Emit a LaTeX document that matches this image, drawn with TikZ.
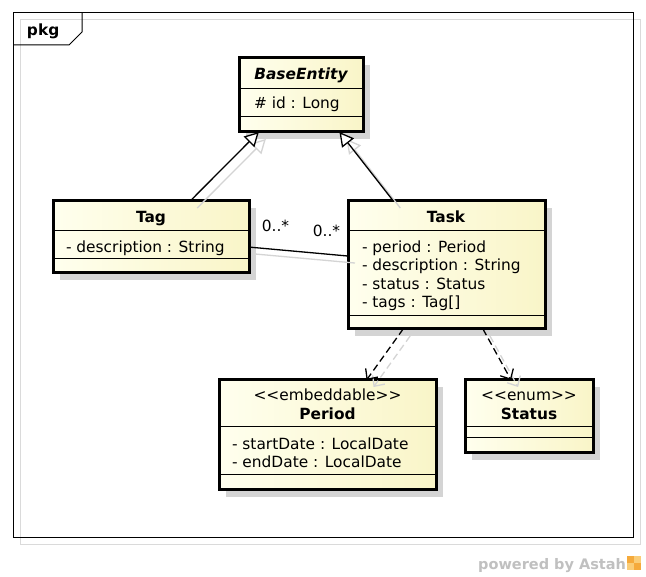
\documentclass[tikz,border=0pt]{standalone}
\usepackage{fontspec}
\setmainfont{DejaVu Sans}
\usetikzlibrary{calc,arrows.meta,shadows}
\definecolor{creamL}{RGB}{255,255,238}
\definecolor{creamR}{RGB}{249,245,200}
\definecolor{shadowgray}{RGB}{212,212,212}
\definecolor{framegray}{RGB}{218,218,218}
\definecolor{logogray}{RGB}{192,192,192}
\definecolor{logoA}{RGB}{245,170,60}
\definecolor{logoB}{RGB}{250,205,120}
\begin{document}
\begin{tikzpicture}[x=1pt,y=-1pt,
  every node/.style={font=\fontsize{15.4}{18}\selectfont, inner sep=0pt, outer sep=0pt},
  umlbox/.style={draw=black, line width=3pt, left color=creamL, right color=creamR, anchor=north west,
    general shadow={fill=shadowgray, shadow xshift=7pt, shadow yshift=-7pt}},
  sepline/.style={line width=1pt},
  title/.style={anchor=base, font=\fontsize{15.4}{18}\selectfont\bfseries},
  attr/.style={anchor=base west},
  stereo/.style={anchor=base},
  mult/.style={anchor=base},
  conn/.style={line width=1.3pt},
  gen/.style={conn, -{Triangle[open, fill=white, length=14pt, width=15pt, line width=1.3pt]}},
  dep/.style={conn, dash pattern=on 7pt off 4pt, -{Straight Barb[length=8pt, width=15pt, line width=1.3pt]}},
  connshadow/.style={draw=shadowgray, transform canvas={shift={(7,7)}}}
]
\useasboundingbox (0,0) rectangle (646,577);
\fill[white] (0,0) rectangle (646,577);

% package frame
\draw[framegray, line width=1pt] (20,20) rectangle (640,544);
\draw[black, line width=1pt] (13,13) rectangle (633,537);
\draw[black, line width=1pt] (13,45) -- (69,45) -- (82,32) -- (82,13);
\node[anchor=base west, font=\fontsize{15.4}{18}\selectfont\bfseries] (pkglabel) at (27,36) {pkg};

% box nodes
\node[umlbox, minimum width=124pt, minimum height=74pt] (base) at (239,58) {};
\node[umlbox, minimum width=196pt, minimum height=72pt] (tag) at (53,201) {};
\node[umlbox, minimum width=197pt, minimum height=128pt] (task) at (348,201) {};
\node[umlbox, minimum width=217pt, minimum height=110pt] (period) at (219,380) {};
\node[umlbox, minimum width=128pt, minimum height=73pt] (status) at (465,380) {};

% compartments
\draw[sepline] (base.west |- 0,89) -- (base.east |- 0,89);
\draw[sepline] (base.west |- 0,117) -- (base.east |- 0,117);
\draw[sepline] (tag.west |- 0,231) -- (tag.east |- 0,231);
\draw[sepline] (tag.west |- 0,259) -- (tag.east |- 0,259);
\draw[sepline] (task.west |- 0,231) -- (task.east |- 0,231);
\draw[sepline] (task.west |- 0,316) -- (task.east |- 0,316);
\draw[sepline] (period.west |- 0,427) -- (period.east |- 0,427);
\draw[sepline] (period.west |- 0,475) -- (period.east |- 0,475);
\draw[sepline] (status.west |- 0,427) -- (status.east |- 0,427);
\draw[sepline] (status.west |- 0,438) -- (status.east |- 0,438);

% texts
\node[title, font=\fontsize{15.4}{18}\selectfont\bfseries\itshape] (baseName) at (301,80) {BaseEntity};
\node[attr] (baseA1) at (254,109) {\# id : Long};

\node[title] (tagName) at (151,223) {Tag};
\node[attr] (tagA1) at (66,253) {- description : String};

\node[title] (taskName) at (446,223) {Task};
\node[attr] (taskA1) at (362,253) {- period : Period};
\node[attr] (taskA2) at (362,271) {- description : String};
\node[attr] (taskA3) at (362,289.5) {- status : Status};
\node[attr] (taskA4) at (362,307.5) {- tags : Tag[]};

\node[stereo] (periodSt) at (327.5,401) {<{}<embeddable>{}>};
\node[title] (periodName) at (327.5,420) {Period};
\node[attr] (periodA1) at (232,449.5) {- startDate : LocalDate};
\node[attr] (periodA2) at (232,468) {- endDate : LocalDate};

\node[stereo] (statusSt) at (529,401) {<{}<enum>{}>};
\node[title] (statusName) at (529,420) {Status};

% connector anchor points
\coordinate (g1s) at ($(tag.north west)!0.70!(tag.north east)$);
\coordinate (g1e) at ($(base.south west)!0.16!(base.south east)$);
\coordinate (g2s) at ($(task.north west)!0.23!(task.north east)$);
\coordinate (g2e) at ($(base.south west)!0.81!(base.south east)$);
\coordinate (as) at ($(tag.north east)!0.64!(tag.south east)$);
\coordinate (ae) at ($(task.north west)!0.43!(task.south west)$);
\coordinate (d1s) at ($(task.south west)!0.28!(task.south east)$);
\coordinate (d1e) at ($(period.north west)!0.68!(period.north east)$);
\coordinate (d2s) at ($(task.south west)!0.685!(task.south east)$);
\coordinate (d2e) at ($(status.north west)!0.36!(status.north east)$);

% connector shadows
\draw[gen, connshadow] (g1s) -- (g1e);
\draw[gen, connshadow] (g2s) -- (g2e);
\draw[conn, connshadow] (as) -- (ae);
\draw[dep, connshadow] (d1s) -- (d1e);
\draw[dep, connshadow] (d2s) -- (d2e);

% connectors
\draw[gen] (g1s) -- (g1e);
\draw[gen] (g2s) -- (g2e);
\draw[conn] (as) -- (ae);
\draw[dep] (d1s) -- (d1e);
\draw[dep] (d2s) -- (d2e);

% multiplicities
\node[mult] (m1) at (275.5,231.7) {0..*};
\node[mult] (m2) at (326.5,236.7) {0..*};

% footer
\node[anchor=base east, text=logogray, font=\fontsize{14.5}{17}\selectfont\bfseries] (powered) at (626,569) {powered by Astah};
\fill[logoA] (627,556) rectangle (634,563);
\fill[logoB] (634,556) rectangle (641,563);
\fill[logoB] (627,563) rectangle (634,570);
\fill[logoA] (634,563) rectangle (641,570);
\end{tikzpicture}
\end{document}
